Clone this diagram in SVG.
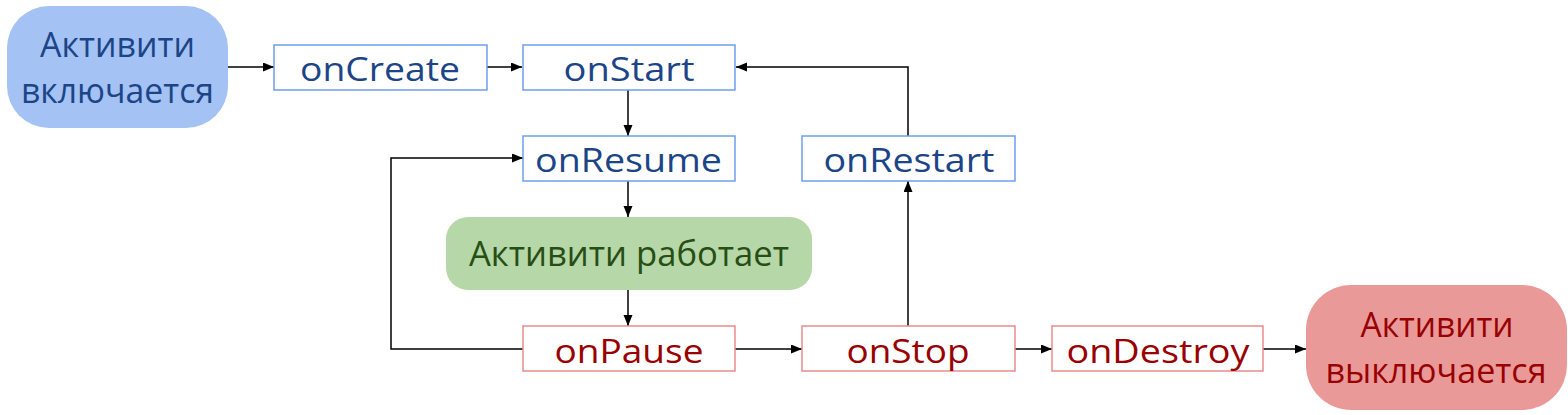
<svg xmlns="http://www.w3.org/2000/svg" width="1568" height="415" viewBox="0 0 1568 415">
<style>
  text { font-family: "Open Sans", "Noto Sans", sans-serif; text-anchor: middle; }
  .big { font-size: 35px; }
  .lbl { font-size: 32.5px; }
  .blueBox { fill: #ffffff; stroke: #6d9eeb; stroke-width: 1.5; }
  .redBox { fill: #ffffff; stroke: #ea8a8a; stroke-width: 1.5; }
  .blueTxt { fill: #1c4587; }
  .redTxt { fill: #990000; }
  .greenTxt { fill: #274e13; }
  .conn { fill: none; stroke: #000000; stroke-width: 1.5; marker-end: url(#arrow); }
</style>
<defs>
  <marker id="arrow" markerUnits="userSpaceOnUse" markerWidth="12" markerHeight="10" refX="11" refY="4.5" orient="auto">
    <path d="M0,0 L11,4.5 L0,9 z" fill="#000000"/>
  </marker>
</defs>
<rect width="1568" height="415" fill="#ffffff"/>

<g id="connectors">
  <path class="conn" d="M228,67 H274"/>
  <path class="conn" d="M487,67 H522"/>
  <path class="conn" d="M628,90 V136"/>
  <path class="conn" d="M628,181 V217"/>
  <path class="conn" d="M628,290 V326"/>
  <path class="conn" d="M523,349 H391 V158 H523"/>
  <path class="conn" d="M735,349 H802"/>
  <path class="conn" d="M908,326 V181"/>
  <path class="conn" d="M908,136 V67 H736"/>
  <path class="conn" d="M1015,349 H1052"/>
  <path class="conn" d="M1263,349 H1306"/>
</g>

<g id="start">
  <rect x="7" y="6" width="221" height="122" rx="42" ry="42" fill="#a4c2f4"/>
  <text class="big blueTxt" x="117.5" y="57" textLength="155" lengthAdjust="spacingAndGlyphs">Активити</text>
  <text class="big blueTxt" x="117.5" y="103" textLength="193" lengthAdjust="spacingAndGlyphs">включается</text>
</g>

<g id="onCreate">
  <rect class="blueBox" x="274" y="45" width="213" height="45"/>
  <text class="lbl blueTxt" x="380" y="80.5" textLength="160" lengthAdjust="spacingAndGlyphs">onCreate</text>
</g>

<g id="onStart">
  <rect class="blueBox" x="523" y="45" width="212" height="45"/>
  <text class="lbl blueTxt" x="629" y="80.5" textLength="131" lengthAdjust="spacingAndGlyphs">onStart</text>
</g>

<g id="onResume">
  <rect class="blueBox" x="523" y="136" width="212" height="45"/>
  <text class="lbl blueTxt" x="628.5" y="171.5" textLength="187" lengthAdjust="spacingAndGlyphs">onResume</text>
</g>

<g id="running">
  <rect x="446" y="217" width="366" height="73" rx="22" ry="22" fill="#b6d7a8"/>
  <text class="big greenTxt" x="629" y="266" textLength="320" lengthAdjust="spacingAndGlyphs">Активити работает</text>
</g>

<g id="onPause">
  <rect class="redBox" x="523" y="326" width="212" height="45"/>
  <text class="lbl redTxt" x="629" y="363" textLength="149" lengthAdjust="spacingAndGlyphs">onPause</text>
</g>

<g id="onRestart">
  <rect class="blueBox" x="802" y="136" width="213" height="45"/>
  <text class="lbl blueTxt" x="909" y="172" textLength="171" lengthAdjust="spacingAndGlyphs">onRestart</text>
</g>

<g id="onStop">
  <rect class="redBox" x="802" y="326" width="213" height="45"/>
  <text class="lbl redTxt" x="908" y="363" textLength="123" lengthAdjust="spacingAndGlyphs">onStop</text>
</g>

<g id="onDestroy">
  <rect class="redBox" x="1052" y="326" width="211" height="45"/>
  <text class="lbl redTxt" x="1158" y="363" textLength="183" lengthAdjust="spacingAndGlyphs">onDestroy</text>
</g>

<g id="end">
  <rect x="1306" y="285" width="261" height="125" rx="45" ry="45" fill="#ea9999"/>
  <text class="big redTxt" x="1437" y="337" textLength="153" lengthAdjust="spacingAndGlyphs">Активити</text>
  <text class="big redTxt" x="1436" y="383" textLength="221" lengthAdjust="spacingAndGlyphs">выключается</text>
</g>
</svg>
